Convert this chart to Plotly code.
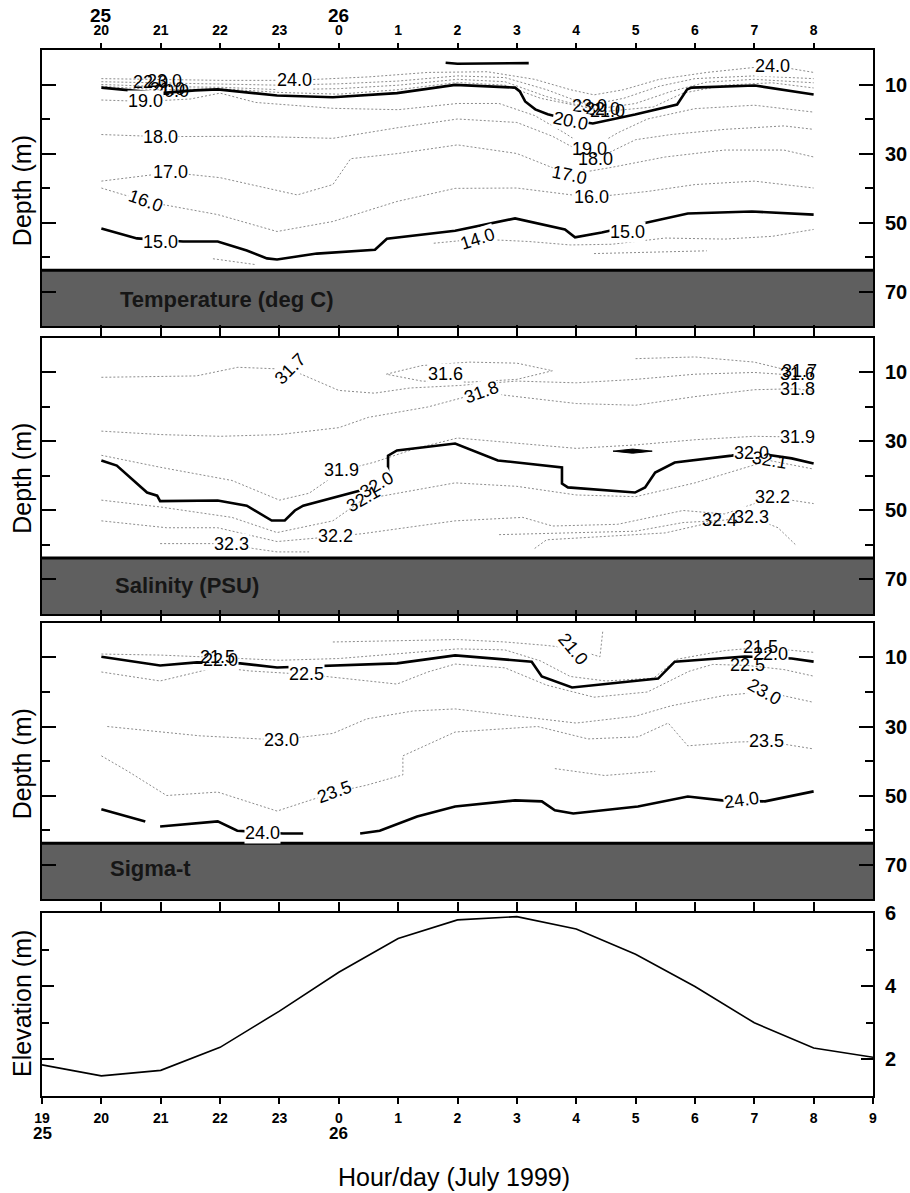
import plotly.graph_objects as go

FONT = "Liberation Sans, Arial, Helvetica, sans-serif"

# ---------------- axes / tick labels ----------------
# time = hours after 19:00 on 25 July 1999
hour_pos = list(range(0, 15))
hour_labels = ["19", "20", "21", "22", "23", "0", "1", "2", "3", "4", "5", "6", "7", "8", "9"]
day_labels = ["25", "26"]
top_day_pos = [1, 5]
bottom_day_pos = [0, 5]
depth_ticks = [10, 30, 50, 70]
depth_minor = [20, 40, 60]
elev_ticks = [2, 4, 6]
elev_minor = [3, 5]
band_top = 63.8          # top of the shaded bottom band (m)
band_names = ["Temperature (deg C)", "Salinity (PSU)", "Sigma-t"]

# ---------------- tidal elevation ----------------
elev_t = list(range(0, 15))
elev_m = [1.85, 1.55, 1.70, 2.33, 3.32, 4.38, 5.30, 5.81, 5.90, 5.56, 4.87, 3.99, 3.00, 2.31, 2.06]

# ---------------- temperature isolines (time, depth) ----------------
T25_t = [6.8, 7.0, 8.2]
T25_d = [3.7, 4.0, 3.8]
T24_t = [1, 2, 3, 4.26, 5.5, 6.5, 7.5, 8.3, 8.9, 9.3, 9.8, 10.4, 11.2, 12.31, 13]
T24_d = [8.3, 8.5, 8.8, 8.8, 7.8, 6.5, 6.3, 8.5, 11.5, 13.0, 11.5, 8.5, 6.5, 4.5, 6.5]
T23_t = [1, 2, 3, 4, 5, 6, 7, 7.8, 8.5, 9.2, 9.8, 10.4, 11, 12, 13]
T23_d = [9.2, 9.5, 9.9, 10.2, 9.8, 9.0, 7.5, 8.0, 11.5, 16.0, 14.0, 10.5, 8.3, 7.5, 8.3]
T22_t = [1, 2, 3, 4, 5, 6, 7, 7.8, 8.5, 9.3, 10, 10.6, 11.2, 12, 13]
T22_d = [10.0, 10.6, 10.8, 11.5, 11.2, 10.2, 8.5, 9.2, 13.5, 17.2, 15.5, 12.0, 9.3, 8.5, 9.5]
T21_t = [1, 2, 3, 4, 5, 6, 7, 7.8, 8.4, 9.5, 10.3, 10.8, 11.5, 12.3, 13]
T21_d = [10.5, 11.6, 11.2, 12.3, 12.8, 11.5, 9.4, 10.2, 14.0, 17.8, 16.5, 12.5, 10.2, 9.5, 11.0]
T20_t = [1.0, 1.99, 2.58, 2.96, 3.96, 4.9, 5.98, 6.96, 7.97, 8.05, 8.14, 8.31, 8.52, 8.93, 9.28,
         9.99, 10.7, 10.87, 10.95, 12.01, 13.0]
T20_d = [10.9, 12.5, 11.7, 11.4, 13.2, 13.7, 12.5, 10.1, 10.9, 12.0, 14.9, 17.2, 18.6, 20.4, 21.3,
         18.7, 15.8, 11.4, 10.9, 10.3, 12.9]
T19_t = [1, 1.74, 2.5, 3.0, 3.6, 4.9, 6, 7, 7.7, 8.3, 8.8, 9.23, 9.7, 10.2, 11, 12, 13]
T19_d = [14.5, 14.9, 14.2, 12.5, 15.2, 16.9, 17.3, 15.5, 15.5, 19.0, 24.0, 28.8, 24.0, 20.0, 17.0, 16.0, 18.0]
T18_t = [1, 1.99, 3.5, 4.9, 6, 7, 8, 8.6, 9.32, 10, 10.6, 11.5, 12.5, 13]
T18_d = [24.5, 25.1, 25.0, 25.6, 22.5, 20.0, 21.0, 25.0, 31.7, 26.0, 24.5, 23.0, 22.0, 23.0]
T17_t = [1, 2.17, 3.0, 3.5, 4.3, 4.9, 5.2, 6, 7, 8, 8.89, 9.6, 10.5, 11.5, 12.5, 13]
T17_d = [38, 35.5, 37, 39, 42, 39, 31.5, 30, 27.5, 30, 36.1, 34, 31, 29, 29, 31]
T16_t = [1, 1.75, 2.96, 3.96, 4.9, 5.98, 6.96, 8, 9.25, 10.2, 11, 12, 13]
T16_d = [40, 43.9, 47.7, 52.6, 49.7, 43.9, 40.1, 40, 42.7, 41, 39, 38, 40]
T15_t = [1.0, 1.6, 2.375, 2.96, 3.45, 3.79, 3.96, 4.63, 5.61, 5.81, 6.96, 7.97, 8.81, 8.98, 9.43,
         10.28, 10.88, 11.96, 13.0]
T15_d = [51.7, 54.6, 55.5, 55.5, 58.1, 60.4, 60.7, 59.0, 57.9, 54.7, 52.4, 48.8, 52.0, 54.3, 52.9,
         49.7, 47.4, 46.8, 47.7]
T14a_t = [6.6, 7.33, 8.2, 8.9, 9.6, 10.5, 11.5, 12.3, 13]
T14a_d = [56.0, 54.8, 55.5, 56.5, 56.3, 54.5, 54.8, 54.0, 52.0]
T14b_t = [2.88, 3.3, 3.6]
T14b_d = [60.5, 61.5, 62.2]
T14c_t = [9.3, 10.3, 11.2]
T14c_d = [59.0, 58.5, 58.2]

# ---------------- salinity isolines ----------------
S316a_t = [5.8, 6.4, 7.2, 8.0, 8.6, 8.0, 7.2, 6.4, 5.8]
S316a_d = [10.5, 8.0, 7.0, 7.3, 9.5, 12.0, 12.8, 12.5, 10.5]
S316b_t = [10, 11, 12, 12.72, 13]
S316b_d = [6.0, 5.5, 7.0, 10.0, 9.0]
S317_t = [1, 2.6, 3.3, 4.18, 5.0, 5.6, 6.2, 7.0, 8, 9, 10, 11, 12, 12.77, 13]
S317_d = [11.4, 11.0, 8.5, 9.1, 15.2, 16.0, 14.5, 13.8, 12.5, 13.0, 12.0, 10.5, 10.0, 10.9, 11.5]
S318_t = [1, 2, 3, 4, 5, 5.5, 6.5, 7.41, 8, 9, 10, 11, 12, 12.72, 13]
S318_d = [27, 28, 28.5, 28, 26, 23, 20, 15.8, 17, 19, 19.5, 17, 15, 14.7, 15.5]
S319_t = [1, 2, 3.2, 4, 4.5, 5.05, 5.6, 6.3, 7, 8, 9, 10, 11, 12, 12.72, 13]
S319_d = [34, 37.5, 41.3, 47, 45, 38.4, 36, 32, 29, 30.5, 32, 31, 29.5, 28.5, 28.7, 29.5]
S320_t = [1.0, 1.26, 1.77, 1.94, 1.99, 2.96, 3.45, 3.87, 4.09, 4.26, 4.4, 5.19, 5.63, 5.83, 5.83,
          5.98, 6.96, 7.68, 8.76, 8.76, 8.86, 9.99, 10.16, 10.33, 10.66, 11.62, 11.96, 12.63, 13.0]
S320_d = [35.5, 37.0, 44.8, 45.7, 47.3, 47.1, 48.6, 52.9, 52.9, 50.0, 48.6, 45.1, 43.0, 40.7, 34.1,
          32.6, 30.6, 35.5, 37.5, 42.2, 43.3, 44.8, 43.3, 39.0, 36.1, 34.1, 33.2, 34.9, 36.4]
S320lens_t = [9.62, 9.95, 10.28, 9.95, 9.62]
S320lens_d = [32.8, 32.2, 32.8, 33.4, 32.8]
S321_t = [1, 2, 3.2, 3.96, 4.9, 5.41, 6.96, 8, 9, 10, 11, 12.25, 13]
S321_d = [47, 49, 52, 56.4, 53, 46.8, 42, 43, 45.5, 46, 42, 35.5, 38]
S322_t = [1, 2.1, 2.96, 3.96, 4.95, 5.41, 6.96, 8.1, 8.6, 9.7, 10.8, 11.5, 12.31, 13]
S322_d = [53, 55, 55, 59, 57.5, 56.7, 53, 52, 54.5, 54, 50, 51, 46.2, 48]
S323a_t = [1.99, 3.2, 3.55, 3.96, 4.5]
S323a_d = [59.6, 59.6, 61, 62, 62]
S323b_t = [7.7, 9, 10, 10.8, 11.42, 11.96, 12.4, 12.7]
S323b_d = [57, 56.5, 56, 53.5, 52.9, 52.0, 55, 60]
S324_t = [8.3, 8.5, 9.5, 10.5, 11.42]
S324_d = [61, 58.5, 57.5, 56.5, 52.9]

# ---------------- sigma-t isolines ----------------
G210_t = [4.9, 6, 7, 7.8, 8.5, 8.95, 9.4, 9.45]
G210_d = [5.5, 5.2, 4.8, 5.5, 6.5, 7.4, 9.8, 2.0]
G215_t = [1, 2, 2.96, 4, 5, 6, 7, 7.8, 8.4, 8.9, 9.5, 10.3, 10.7, 11.5, 12.11, 13]
G215_d = [9.0, 9.3, 10.0, 10.8, 10.3, 9.0, 7.5, 7.8, 11.0, 15.5, 16.8, 16.0, 10.5, 8.0, 7.1, 8.5]
G220_t = [1.0, 1.99, 2.61, 3.34, 3.96, 4.9, 5.98, 6.96, 7.97, 8.25, 8.42, 8.93, 10.38, 10.66, 11.84,
          12.63, 13.0]
G220_d = [9.8, 12.3, 11.4, 11.7, 12.9, 12.3, 11.7, 9.4, 10.9, 11.2, 15.5, 18.7, 16.1, 11.2, 9.7,
          10.3, 11.2]
G225_t = [1, 1.99, 2.96, 3.5, 4.46, 5.98, 6.5, 6.96, 7.8, 8.5, 9.3, 10.2, 10.9, 11.3, 11.88, 12.5, 13]
G225_d = [14.2, 16.8, 12.8, 13.9, 14.9, 17.7, 14.2, 11.9, 13.0, 18.0, 21.5, 20.0, 14.0, 12.0, 12.3, 13.5, 15.4]
G230_t = [1.1, 2.66, 3.67, 4.03, 4.9, 5.47, 6.25, 6.96, 8, 9, 10, 10.6, 11.5, 12.18, 13]
G230_d = [30, 32.7, 33.6, 33.8, 32, 27.8, 25.5, 24.9, 27, 29, 27, 24, 21, 19.9, 23]
G235a_t = [1.0, 1.45, 2.1, 2.96, 3.96, 4.92, 5.47, 6.08, 6.08, 6.96, 8.35, 9.2, 10.04, 10.55, 10.88,
           11.7, 12.2, 13]
G235a_d = [38.5, 43, 50, 49, 54.5, 49.1, 47, 44, 38.5, 31.6, 30, 33.6, 33, 29, 35.6, 34.5, 34.3, 36.5]
G235b_t = [8.64, 9.48, 10.33]
G235b_d = [42.2, 44.2, 43.0]
G240_t = [1.0, 1.74, None, 1.99, 2.96, 3.29, 4.06, 4.4, None, 5.36, 5.69, 6.32, 6.96, 7.97, 8.42,
          8.64, 8.95, 10.04, 10.88, 11.46, 12.18, 13.0]
G240_d = [54.0, 57.5, None, 59.0, 57.5, 60.2, 61.0, 61.0, None, 61.0, 60.2, 56.1, 53.2, 51.4, 51.7,
          54.3, 55.2, 53.2, 50.3, 51.4, 51.7, 48.8]

# ---------------- contour labels: (text, time, depth, angle, white background) ----------------
T_labels = [
    ("24.0", 4.26, 8.8, 0, True), ("22.0", 1.82, 9.4, 0, False), ("23.0", 2.07, 9.1, 0, False),
    ("21.0", 2.12, 11.2, 0, False), ("20.0", 2.19, 12.0, 0, False),
    ("19.0", 1.74, 14.9, 0, True), ("18.0", 1.99, 25.1, 0, True), ("17.0", 2.17, 35.5, 0, True),
    ("16.0", 1.75, 43.9, 20, True), ("15.0", 2.0, 55.5, 0, True),
    ("23.0", 9.23, 16.1, 0, False), ("22.0", 9.45, 17.2, 0, False), ("21.0", 9.52, 17.8, 0, False),
    ("20.0", 8.91, 20.7, 12, True), ("19.0", 9.23, 28.8, 0, True), ("18.0", 9.32, 31.7, 0, False),
    ("17.0", 8.89, 36.1, 12, True), ("16.0", 9.25, 42.7, 0, True), ("15.0", 9.87, 52.6, 0, True),
    ("14.0", 7.33, 54.8, -18, True), ("24.0", 12.31, 4.5, 0, True),
]
S_labels = [
    ("31.7", 4.18, 9.1, -45, True), ("31.6", 6.79, 10.3, 0, True), ("31.8", 7.41, 15.8, -20, True),
    ("31.9", 5.05, 38.4, 0, True), ("32.0", 5.63, 42.5, -30, True), ("32.1", 5.41, 46.8, -30, False),
    ("32.2", 4.95, 57.5, 0, True), ("32.3", 3.2, 59.6, 0, True),
    ("31.7", 12.77, 9.6, 0, True), ("31.6", 12.72, 10.4, 0, False), ("31.8", 12.72, 14.7, 0, False),
    ("31.9", 12.72, 28.7, 0, True), ("32.0", 11.96, 33.2, 0, True), ("32.1", 12.25, 35.5, 10, False),
    ("32.2", 12.31, 46.2, 0, True), ("32.3", 11.96, 52.0, 0, True), ("32.4", 11.42, 52.9, 0, False),
]
G_labels = [
    ("22.0", 3.0, 10.6, 0, True), ("21.5", 2.96, 10.0, 0, False),
    ("22.5", 4.46, 14.9, 0, True), ("23.0", 4.03, 33.8, 0, True), ("23.5", 4.92, 49.1, -20, True),
    ("24.0", 3.71, 60.8, 0, True), ("21.0", 8.95, 7.4, 50, True),
    ("22.0", 12.28, 9.1, 0, True), ("21.5", 12.11, 7.1, 0, False), ("22.5", 11.88, 12.3, 0, False),
    ("23.0", 12.18, 19.9, 30, True), ("23.5", 12.2, 34.3, 0, True), ("24.0", 11.79, 51.2, -8, True),
]

# ---------------- figure ----------------
THICK = dict(color="black", width=2.6)
DOT = dict(color="#8c8c8c", width=1, dash="2px,2px")

fig = go.Figure()


def iso(t, d, panel, thick=False):
    sx = "x" if panel == 1 else f"x{panel}"
    sy = "y" if panel == 1 else f"y{panel}"
    fig.add_trace(go.Scatter(x=t, y=d, xaxis=sx, yaxis=sy, mode="lines",
                             line=THICK if thick else DOT, hoverinfo="skip",
                             showlegend=False, connectgaps=False))


# temperature
for t, d in [(T24_t, T24_d), (T23_t, T23_d), (T22_t, T22_d), (T21_t, T21_d), (T19_t, T19_d),
             (T18_t, T18_d), (T17_t, T17_d), (T16_t, T16_d), (T14a_t, T14a_d), (T14b_t, T14b_d),
             (T14c_t, T14c_d)]:
    iso(t, d, 1)
for t, d in [(T25_t, T25_d), (T20_t, T20_d), (T15_t, T15_d)]:
    iso(t, d, 1, True)

# salinity
for t, d in [(S316a_t, S316a_d), (S316b_t, S316b_d), (S317_t, S317_d), (S318_t, S318_d),
             (S319_t, S319_d), (S321_t, S321_d), (S322_t, S322_d), (S323a_t, S323a_d),
             (S323b_t, S323b_d), (S324_t, S324_d)]:
    iso(t, d, 2)
iso(S320_t, S320_d, 2, True)
fig.add_trace(go.Scatter(x=S320lens_t, y=S320lens_d, xaxis="x2", yaxis="y2", mode="lines",
                         fill="toself", fillcolor="black", line=dict(color="black", width=1),
                         hoverinfo="skip", showlegend=False))

# sigma-t
for t, d in [(G210_t, G210_d), (G215_t, G215_d), (G225_t, G225_d), (G230_t, G230_d),
             (G235a_t, G235a_d), (G235b_t, G235b_d)]:
    iso(t, d, 3)
for t, d in [(G220_t, G220_d), (G240_t, G240_d)]:
    iso(t, d, 3, True)

# elevation
fig.add_trace(go.Scatter(x=elev_t, y=elev_m, xaxis="x4", yaxis="y4", mode="lines",
                         line=dict(color="black", width=1.6), hoverinfo="skip", showlegend=False))
# carrier for the upper tick axis of the elevation panel
fig.add_trace(go.Scatter(x=[], y=[], xaxis="x5", yaxis="y4", mode="lines", showlegend=False))

annotations = []
for panel, labels in [(1, T_labels), (2, S_labels), (3, G_labels)]:
    sx = "x" if panel == 1 else f"x{panel}"
    sy = "y" if panel == 1 else f"y{panel}"
    for text, t, d, ang, bg in labels:
        annotations.append(dict(x=t, y=d, xref=sx, yref=sy, text=text, showarrow=False,
                                xanchor="center", yanchor="middle",
                                textangle=ang, font=dict(size=18, color="black", family=FONT),
                                bgcolor="white" if bg else "rgba(0,0,0,0)", borderpad=0))

# bottom bands
shapes = []
band_label_pos = [(3.12, 72.3), (2.44, 71.7), (1.82, 71.2)]
for i in range(3):
    sx = "x" if i == 0 else f"x{i + 1}"
    sy = "y" if i == 0 else f"y{i + 1}"
    shapes.append(dict(type="rect", xref=sx, yref=sy, x0=0, x1=14, y0=band_top, y1=80,
                       fillcolor="#5f5f5f", line=dict(width=0), layer="below"))
    shapes.append(dict(type="line", xref=sx, yref=sy, x0=0, x1=14, y0=band_top, y1=band_top,
                       line=dict(color="black", width=3)))
    bx, by = band_label_pos[i]
    annotations.append(dict(x=bx, y=by, xref=sx, yref=sy, text=band_names[i], showarrow=False,
                            xanchor="center", yanchor="middle",
                            font=dict(size=22, color="#161616", family=FONT, weight="bold")))

# day labels
for p, lab in zip(top_day_pos, day_labels):
    annotations.append(dict(x=p, y=1.033, xref="x", yref="paper", text=lab, showarrow=False,
                            xanchor="center", yanchor="middle",
                            font=dict(size=19, family=FONT, weight="bold")))
for p, lab in zip(bottom_day_pos, day_labels):
    annotations.append(dict(x=p, y=-0.0363, xref="x4", yref="paper", text=lab, showarrow=False,
                            xanchor="center", yanchor="middle",
                            font=dict(size=17, family=FONT, weight="bold")))

# axis titles
for yc, txt in [(0.866, "Depth (m)"), (0.591, "Depth (m)"), (0.318, "Depth (m)"),
                (0.0889, "Elevation (m)")]:
    annotations.append(dict(x=-0.0241, y=yc, xref="paper", yref="paper", text=txt,
                            xanchor="center", yanchor="middle",
                            showarrow=False, textangle=-90, font=dict(size=25, family=FONT)))
annotations.append(dict(x=0.4958, y=-0.0774, xref="paper", yref="paper",
                        text="Hour/day (July 1999)", showarrow=False,
                        xanchor="center", yanchor="middle",
                        font=dict(size=25, family=FONT)))

xbase = dict(range=[0, 14], showgrid=False, zeroline=False, showline=True, linecolor="black",
             linewidth=2, tickcolor="black", tickwidth=1.5, fixedrange=True, domain=[0, 1],
             automargin=False)


def depth_axis(domain, anchor):
    return dict(domain=domain, anchor=anchor, range=[80, 0], side="right", tickmode="array",
                tickvals=depth_ticks, ticktext=[str(v) for v in depth_ticks], ticks="inside",
                ticklen=14, tickwidth=1.5, tickcolor="black",
                minor=dict(tickmode="array", tickvals=depth_minor, ticks="inside", ticklen=8,
                           tickwidth=1.5, tickcolor="black"),
                mirror="ticks", showline=True, linecolor="black", linewidth=2, showgrid=False,
                zeroline=False, ticklabelstandoff=6, automargin=False,
                tickfont=dict(size=20, family=FONT, weight="bold", color="black"))


fig.update_layout(
    width=910, height=1193,
    margin=dict(l=42, r=37, t=50, b=97, autoexpand=False),
    paper_bgcolor="white", plot_bgcolor="white",
    font=dict(family=FONT, color="black"),
    showlegend=False,
    xaxis=dict(xbase, anchor="y", side="top", tickmode="array", tickvals=hour_pos[1:14],
               ticktext=hour_labels[1:14], ticks="outside", ticklen=5, mirror=True,
               ticklabelstandoff=2, tickfont=dict(size=14, family=FONT, weight="bold")),
    xaxis2=dict(xbase, anchor="y2", side="top", tickmode="array", tickvals=hour_pos[1:14],
                ticks="outside", ticklen=11, showticklabels=False, mirror=True),
    xaxis3=dict(xbase, anchor="y3", side="top", tickmode="array", tickvals=hour_pos[1:14],
                ticks="outside", ticklen=11, showticklabels=False, mirror=True),
    xaxis4=dict(xbase, anchor="y4", side="bottom", tickmode="array", tickvals=hour_pos,
                ticktext=hour_labels, ticks="outside", ticklen=6, mirror=True,
                ticklabelstandoff=2, tickfont=dict(size=14, family=FONT, weight="bold")),
    xaxis5=dict(range=[0, 14], overlaying="x4", anchor="y4", side="top", tickmode="array",
                tickvals=hour_pos[1:14], ticks="outside", ticklen=10, tickwidth=1.5,
                tickcolor="black", showticklabels=False, showline=False, showgrid=False,
                zeroline=False, fixedrange=True, automargin=False),
    yaxis=depth_axis([0.7361, 1.0], "x"),
    yaxis2=depth_axis([0.4608, 0.7247], "x2"),
    yaxis3=depth_axis([0.1883, 0.4522], "x3"),
    yaxis4=dict(domain=[0, 0.175], anchor="x4", range=[1, 6], side="right", tickmode="array",
                tickvals=elev_ticks, ticktext=[str(v) for v in elev_ticks], ticks="inside",
                ticklen=12, tickwidth=1.5, tickcolor="black",
                minor=dict(tickmode="array", tickvals=elev_minor, ticks="inside", ticklen=7,
                           tickwidth=1.5, tickcolor="black"),
                mirror="ticks", showline=True, linecolor="black", linewidth=2, showgrid=False,
                zeroline=False, ticklabelstandoff=6, automargin=False,
                tickfont=dict(size=20, family=FONT, weight="bold", color="black")),
    shapes=shapes,
    annotations=annotations,
)

fig.write_html("out.html", config={"displayModeBar": False},
               post_script="document.body.style.margin='0';")
